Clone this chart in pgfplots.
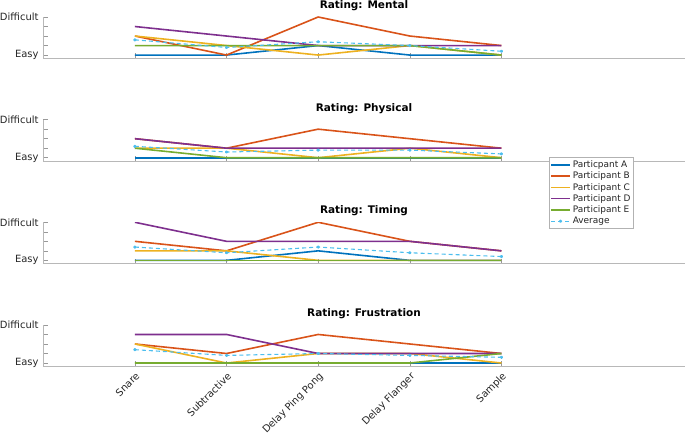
\documentclass[border=0pt]{standalone}
\usepackage{fontspec}
\setmainfont{DejaVu Sans}
\usepackage{pgfplots}
\pgfplotsset{compat=1.18}
\usepackage{pgfplotstable}
\definecolor{cA}{RGB}{0,114,189}
\definecolor{cB}{RGB}{217,83,25}
\definecolor{cC}{RGB}{237,177,32}
\definecolor{cD}{RGB}{126,47,142}
\definecolor{cE}{RGB}{119,172,48}
\definecolor{cF}{RGB}{77,190,238}

\pgfplotstableread{
x A B C D E Avg
1 1 3 3 4 2 2.6
2 1 1 2 3 2 1.8
3 2 5 1 2 2 2.4
4 1 3 2 2 2 2.0
5 1 2 1 2 1 1.4
}\mental
\pgfplotstableread{
x A B C D E Avg
1 1 3 2 3 2 2.2
2 1 2 2 2 1 1.6
3 1 4 1 2 1 1.8
4 1 3 2 2 1 1.8
5 1 2 1 2 1 1.4
}\physical
\pgfplotstableread{
x A B C D E Avg
1 1 3 2 5 1 2.4
2 1 2 2 3 1 1.8
3 2 5 1 3 1 2.4
4 1 3 1 3 1 1.8
5 1 2 1 2 1 1.4
}\timing
\pgfplotstableread{
x A B C D E Avg
1 1 3 3 4 1 2.4
2 1 2 1 4 1 1.8
3 1 4 2 2 1 2.0
4 1 3 2 2 1 1.8
5 1 2 1 2 2 1.6
}\frustration

\pgfplotsset{
  panel/.style={
    scale only axis, width=643pt, height=41.5pt,
    xmin=0, xmax=7, ymin=0.65, ymax=5,
    axis x line=bottom, axis y line=left,
    axis line style={draw=black!28, -, line width=0.6pt},
    xtick={1,2,3,4,5}, ytick={1,2,3,4,5},
    yticklabels={Easy,,,,Difficult},
    tick align=inside, major tick length=5pt,
    tick style={draw=black!40, line width=0.6pt},
    ticklabel style={text=black!85, font=\fontsize{10}{12}\selectfont},
    yticklabel style={inner xsep=0pt, xshift=-4.5pt},
    title style={font=\bfseries\fontsize{10.5}{12}\selectfont, inner ysep=0.5pt, yshift=-0.4pt},
    every axis plot/.append style={line width=1.6pt, line join=round},
  },
  pA/.style={cA, line width=1.6pt, no marks},
  pB/.style={cB, line width=1.6pt, no marks},
  pC/.style={cC, line width=1.6pt, no marks},
  pD/.style={cD, line width=1.6pt, no marks},
  pE/.style={cE, line width=1.6pt, no marks},
  pF/.style={cF, line width=1.1pt, dash pattern=on 4pt off 3pt, mark=*, mark size=1.1pt, mark options={solid}},
}

\newcommand{\panelplots}[1]{%
  \addplot[pA] table[x=x,y=A] {#1};
  \addplot[pB] table[x=x,y=B] {#1};
  \addplot[pC] table[x=x,y=C] {#1};
  \addplot[pD] table[x=x,y=D] {#1};
  \addplot[pE] table[x=x,y=E] {#1};
  \addplot[pF] table[x=x,y=Avg] {#1};
}

\begin{document}
\begin{tikzpicture}
\begin{axis}[panel, at={(0,0)}, title={Rating: Mental}, xticklabels={,,,,}]
\panelplots{\mental}
\end{axis}
\begin{axis}[panel, at={(0,-102.9pt)}, title={Rating: Physical}, xticklabels={,,,,},
  legend entries={Particpant A, Participant B, Participant C, Participant D, Participant E, Average},
  legend style={at={(0.7885,0.088)}, anchor=north west, draw=black!30, fill=white,
    font=\fontsize{9}{10.5}\selectfont, inner xsep=1pt, inner ysep=1pt, row sep=-1pt,
    text=black!85, cells={anchor=west}},
  legend image code/.code={\draw[mark repeat=2, mark phase=2, #1] plot coordinates {(0pt,0pt) (9.5pt,0pt) (19pt,0pt)};},
]
\panelplots{\physical}
\end{axis}
\begin{axis}[panel, at={(0,-205.8pt)}, title={Rating: Timing}, xticklabels={,,,,}]
\panelplots{\timing}
\end{axis}
\begin{axis}[panel, at={(0,-308.7pt)}, title={Rating: Frustration},
  xticklabels={Snare, Subtractive, Delay Ping Pong, Delay Flanger, Sample},
  xticklabel style={rotate=45, anchor=north east, inner sep=3.5pt}]
\panelplots{\frustration}
\end{axis}
\end{tikzpicture}
\end{document}
